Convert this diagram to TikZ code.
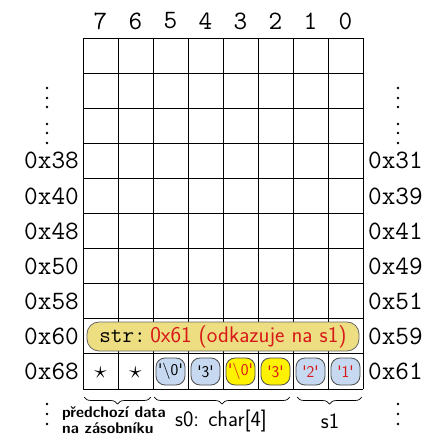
\documentclass[tikz,border=0pt]{standalone}
\usepackage{fontspec}
\usetikzlibrary{decorations.pathreplacing}
\definecolor{khaki}{RGB}{238,222,130}
\definecolor{lblue}{RGB}{198,217,240}
\definecolor{yel}{RGB}{255,242,0}
\definecolor{redt}{RGB}{215,25,25}
\newcommand{\qq}[1]{\textquotesingle#1\textquotesingle}
\begin{document}
\begin{tikzpicture}[x=1pt,y=-1pt,
  lab/.style={font=\fontsize{26.5}{30}\selectfont\ttfamily, inner sep=0pt},
  gridline/.style={line width=0.9pt, black},
  cellbox/.style={draw=black!70, rounded corners=9pt, line width=0.8pt,
    minimum width=29pt, minimum height=27pt, inner sep=0pt,
    font=\fontsize{16.5}{18}\selectfont\sffamily},
  blue box/.style={cellbox, fill=lblue},
  yel box/.style={cellbox, fill=yel, text=redt},
  dotmark/.style={fill=black},
  bracestyle/.style={decorate, decoration={brace, mirror, amplitude=7pt}, line width=0.7pt},
  strbox/.style={draw=black!60, fill=khaki, rounded corners=12pt, line width=0.8pt,
    minimum width=272pt, minimum height=29pt, inner sep=0pt,
    font=\fontsize{22.5}{24}\selectfont}
]
\useasboundingbox (0,0) rectangle (439,438);
% grid
\foreach \i in {0,...,8} \draw[gridline] (83+35*\i,38) -- (83+35*\i,389);
\foreach \j in {0,...,10} \draw[gridline] (83,38+35.1*\j) -- (363,38+35.1*\j);
% column labels
\foreach \c [count=\i from 0] in {7,6,5,4,3,2,1,0}
  \node[lab] (col\c) at (100.5+35*\i, 21) {\c};
% row labels
\foreach \l/\r [count=\j from 3] in {0x38/0x31,0x40/0x39,0x48/0x41,0x50/0x49,0x58/0x51,0x60/0x59,0x68/0x61}{
  \node[lab, anchor=east] (L\l) at (79, 38+35.1*\j+17.55) {\l};
  \node[lab, anchor=west] (R\r) at (368, 38+35.1*\j+17.55) {\r};
}
% dots
\foreach \y in {88,98,107,124,133,143,404,414,424}{
  \fill[dotmark] (47,\y) circle (1.3);
  \fill[dotmark] (398,\y) circle (1.3);
}
% str box
\node[strbox] (str) at (223,336.5) {\ttfamily str:\hspace{0.2em}\textcolor{redt}{\sffamily 0x61 (odkazuje na s1)}};
% bottom row
\node[font=\fontsize{32}{34}\selectfont, inner sep=0pt] (st7) at (100.5,373) {$\star$};
\node[font=\fontsize{32}{34}\selectfont, inner sep=0pt] (st6) at (135.5,373) {$\star$};
\node[blue box] (b5) at (170.5,371.5) {\qq{\textbackslash0}};
\node[blue box] (b4) at (205.5,371.5) {\qq{3}};
\node[yel box] (b3) at (240.5,371.5) {\qq{\textbackslash0}};
\node[yel box] (b2) at (275.5,371.5) {\qq{3}};
\node[blue box, text=redt] (b1) at (310.5,371.5) {\qq{2}};
\node[blue box, text=redt] (b0) at (345.5,371.5) {\qq{1}};
% braces
\coordinate (br1a) at (84,397); \coordinate (br1b) at (151,397);
\coordinate (br2a) at (154,397); \coordinate (br2b) at (290,397);
\coordinate (br3a) at (297,397); \coordinate (br3b) at (362,397);
\draw[bracestyle] (br1a) -- (br1b);
\draw[bracestyle] (br2a) -- (br2b);
\draw[bracestyle] (br3a) -- (br3b);
\node[anchor=west, align=left, inner sep=0pt, font=\fontsize{15.5}{16}\selectfont\sffamily\bfseries] (prev) at (62,420.5) {předchozí data\\na zásobníku};
\node[font=\fontsize{22}{24}\selectfont\sffamily, inner sep=0pt] (s0) at (221,421) {s0: char[4]};
\node[font=\fontsize{22}{24}\selectfont\sffamily, inner sep=0pt] (s1) at (330,421) {s1};
\end{tikzpicture}
\end{document}
